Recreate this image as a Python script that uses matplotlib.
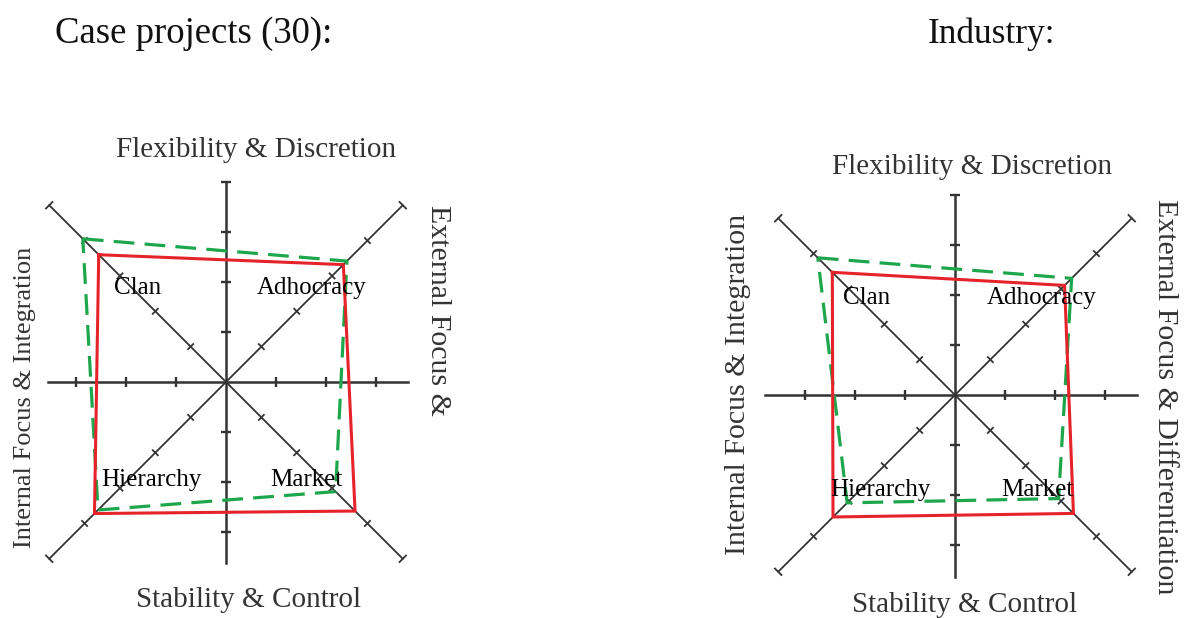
import numpy as np
import matplotlib
matplotlib.use("Agg")
import matplotlib.pyplot as plt

W, H = 1184, 618
UNIT = 50.0  # pixels per axis tick

# culture types, in the order of the diagonals
categories = ["Clan", "Adhocracy", "Market", "Hierarchy"]
directions = [(-1, 1), (1, 1), (1, -1), (-1, -1)]

# scores along each diagonal (diagonal tick units)
case_red = [3.60, 3.32, 3.65, 3.72]
case_green = [4.05, 3.42, 3.10, 3.62]
industry_red = [3.47, 3.10, 3.35, 3.45]
industry_green = [3.88, 3.30, 2.93, 3.05]

titles = ["Case projects (30):", "Industry:"]
top_label = "Flexibility & Discretion"
bottom_label = "Stability & Control"
left_label = "Internal Focus & Integration"
right_labels = ["External Focus &", "External Focus & Differentiation"]

RED = "#e5232b"
GREEN = "#1ea64c"
AXIS = "#333333"
LABEL = "#333333"
SERIF = "Liberation Serif"

plt.rcParams["font.family"] = SERIF


def make_panel(cx, cy, x0, x1, y0, y1):
    ax = fig.add_axes([x0 / W, 1 - y1 / H, (x1 - x0) / W, (y1 - y0) / H])
    ax.set_xlim((x0 - cx) / UNIT, (x1 - cx) / UNIT)
    ax.set_ylim((cy - y1) / UNIT, (cy - y0) / UNIT)
    ax.set_aspect("equal")
    ax.axis("off")
    return ax


def tick(ax, x, y, dx, dy, half=0.1, lw=1.5):
    # short segment perpendicular to direction (dx, dy)
    n = np.hypot(dx, dy)
    px, py = -dy / n * half, dx / n * half
    ax.plot([x - px, x + px], [y - py, y + py], color=AXIS, lw=lw,
            solid_capstyle="butt")


def draw_frame(ax, hlim, vlim, diag=5):
    ax.plot(hlim, [0, 0], color=AXIS, lw=1.8)
    ax.plot([0, 0], vlim, color=AXIS, lw=1.8)
    for k in (1, 2, 3):
        for s in (-1, 1):
            tick(ax, s * k, 0, 1, 0, lw=1.7)
            tick(ax, 0, s * k, 0, 1, lw=1.7)
    if vlim[1] >= 3.9:
        tick(ax, 0, 4, 0, 1, lw=1.7)
    r = diag / np.sqrt(2)
    ax.plot([-r, r], [-r, r], color=AXIS, lw=1.3)
    ax.plot([-r, r], [r, -r], color=AXIS, lw=1.3)
    for dx, dy in directions:
        for k in range(1, diag + 1):
            d = k / np.sqrt(2)
            tick(ax, dx * d, dy * d, dx, dy, half=0.09 if k < diag else 0.11,
                 lw=1.3)


def polygon(values):
    pts = [(dx * v / np.sqrt(2), dy * v / np.sqrt(2))
           for (dx, dy), v in zip(directions, values)]
    pts.append(pts[0])
    return np.array(pts)


def draw_panel(ax, red, green, quad_pos, label_pos, right_text, left_fs, right_fs):
    g = polygon(green)
    ax.plot(g[:, 0], g[:, 1], color=GREEN, lw=2.3, dashes=(6.5, 3.2), zorder=3)
    r = polygon(red)
    ax.plot(r[:, 0], r[:, 1], color=RED, lw=2.2, zorder=4, solid_joinstyle="miter")
    for name, (x, y) in zip(categories, quad_pos):
        ax.text(x, y, name, fontsize=18, ha="center", va="center",
                color="black", zorder=5)
    (tx, ty), (bx, by), (lx, ly), (rx, ry) = label_pos
    ax.text(tx, ty, top_label, fontsize=21, ha="center", va="center",
            color=LABEL, clip_on=False)
    ax.text(bx, by, bottom_label, fontsize=21, ha="center", va="center",
            color=LABEL, clip_on=False)
    ax.text(lx, ly, left_label, fontsize=left_fs, ha="center", va="center",
            rotation=90, color=LABEL, clip_on=False)
    ax.text(rx, ry, right_text, fontsize=right_fs, ha="center", va="center",
            rotation=-90, color=LABEL, clip_on=False)


fig = plt.figure(figsize=(W / 100, H / 100), dpi=100)

ax1 = make_panel(226, 382, 0, 470, 100, 618)
draw_frame(ax1, (-3.56, 3.64), (-3.62, 4.0))
draw_panel(ax1, case_red, case_green,
           [(-1.76, 1.88), (1.72, 1.88), (1.6, -1.96), (-1.5, -1.96)],
           [(0.6, 4.64), (0.46, -4.36), (-4.02, -0.3), (4.24, 1.44)],
           right_labels[0], 19, 21.5)

ax2 = make_panel(955, 395, 700, 1184, 100, 618)
draw_frame(ax2, (-3.8, 3.64), (-3.64, 3.98))
draw_panel(ax2, industry_red, industry_green,
           [(-1.76, 1.94), (1.74, 1.94), (1.64, -1.9), (-1.5, -1.9)],
           [(0.34, 4.56), (0.2, -4.2), (-4.34, 0.22), (4.2, -0.04)],
           right_labels[1], 21.5, 21.5)

fig.text(55 / W, 1 - 43 / H, titles[0], fontsize=26.5, ha="left",
         va="baseline", color="#111111")
fig.text(928 / W, 1 - 43 / H, titles[1], fontsize=25.5, ha="left",
         va="baseline", color="#111111")

fig.savefig("out.png", dpi=100)
